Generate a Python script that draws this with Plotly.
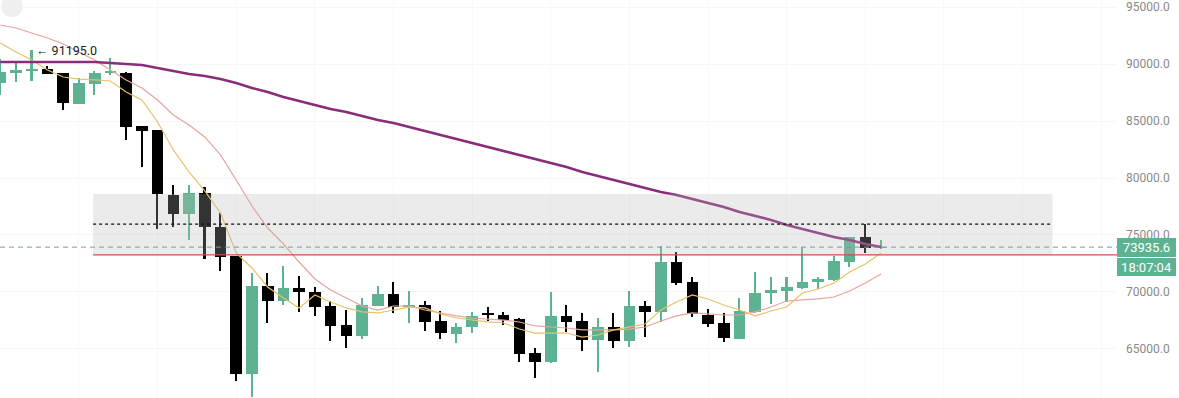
import plotly.graph_objects as go

# ---- data ----
opens = [88330, 89250, 89430, 89560, 89210, 86490, 88250, 89210, 89210, 84560,
         84210, 78510, 76840, 78680, 75700, 73160, 62810, 70530, 69210, 70350,
         70000, 68770, 67110, 66140, 68770, 69830, 68680, 68860, 67460, 66320,
         66930, 68160, 67980, 67630, 64650, 63860, 67890, 67460, 65790, 66930,
         65700, 68770, 68250, 72630, 70880, 67980, 67280, 65880, 68250, 69910,
         70090, 70350, 70880, 71050, 72630, 74820, 73860]
highs = [90450, 90180, 91195, 89830, 89250, 88770, 89390, 90530, 89300, 84600,
         84250, 79390, 79390, 79210, 76930, 73200, 71670, 71670, 72280, 71400,
         70440, 69210, 68420, 69470, 70530, 70880, 70090, 69210, 68330, 67280,
         68250, 68680, 68250, 67720, 65090, 70000, 68860, 68160, 67720, 68160,
         70090, 69210, 74040, 73510, 71320, 68510, 68160, 69470, 71750, 71320,
         71320, 73950, 71320, 73160, 74850, 75960, 74560]
lows = [87280, 88420, 88510, 89100, 85970, 86450, 87280, 89040, 83330, 80970,
        75530, 75700, 74560, 72900, 71840, 62190, 60790, 67280, 68860, 68250,
        67900, 65700, 65090, 65880, 68750, 68160, 67280, 66580, 65880, 65530,
        66400, 67460, 67110, 63860, 62460, 63800, 66490, 64820, 62980, 65090,
        65180, 66050, 67370, 70610, 67810, 66930, 65610, 65850, 68200, 68950,
        69120, 70300, 70260, 71000, 72190, 73420, 73770]
closes = [89300, 89450, 89560, 89120, 86580, 88330, 89210, 89340, 84470, 84120,
          78600, 76840, 78680, 75700, 73070, 62810, 70530, 69210, 70350, 70000,
          68680, 67020, 66140, 68860, 69830, 68680, 68860, 67370, 66400, 66930,
          67890, 67980, 67540, 64560, 63860, 67890, 67370, 65790, 66930, 65700,
          68770, 68250, 72630, 70790, 68070, 67190, 65970, 68330, 69910, 70180,
          70440, 70880, 71140, 72720, 74820, 73860, 73935.6]

ma_long = [90180, 90180, 90180, 90180, 90180, 90180, 90180, 90090, 90000, 89910,
           89650, 89390, 89120, 88950, 88680, 88330, 87900, 87540, 87110, 86750,
           86400, 86050, 85790, 85440, 85090, 84820, 84470, 84120, 83770, 83420,
           83070, 82720, 82370, 82020, 81670, 81320, 80970, 80530, 80180, 79820,
           79470, 79120, 78770, 78510, 78160, 77810, 77460, 77020, 76670, 76320,
           75880, 75530, 75180, 74820, 74560, 74210, 73950]
ma_mid = [93420, 93160, 92720, 92280, 91750, 91050, 90350, 89470, 88600, 87900,
          86840, 85530, 84650, 83600, 82020, 79820, 77540, 75610, 74210, 72630,
          71140, 70180, 69470, 68770, 68420, 68770, 68770, 68420, 68160, 67900,
          67720, 67630, 67540, 67370, 67020, 66930, 66840, 66670, 66670, 66670,
          66750, 66930, 67460, 67900, 68160, 68070, 67980, 67980, 68250, 68680,
          69210, 69300, 69390, 69560, 70090, 70790, 71580]
ma_short = [91840, 91050, 90350, 89470, 88860, 88680, 88600, 88510, 87540, 86840,
            84910, 82460, 80530, 78860, 76930, 73420, 72110, 70440, 69470, 68600,
            69740, 69120, 68600, 68250, 68160, 68420, 68680, 68600, 68070, 67720,
            67540, 67370, 67280, 66750, 66400, 66400, 66400, 66050, 66230, 66670,
            66930, 67190, 68420, 69120, 69740, 69390, 68860, 68420, 67900, 68330,
            68680, 69910, 70260, 70790, 71750, 72460, 73420]

last_price = 73935.6
timer_text = "18:07:04"
high_mark = 91195.0
red_level = 73250
dotted_level = 75950
zone_low, zone_high = 73250, 78600
yticks = [65000, 70000, 75000, 80000, 85000, 90000, 95000]

# ---- derived ----
idx = list(range(len(opens)))
GREEN = "#5db391"
BLACK = "#000000"
colors = [GREEN if c >= o else BLACK for o, c in zip(opens, closes)]
body_base = [min(o, c) for o, c in zip(opens, closes)]
body_h = [max(abs(c - o), 40) for o, c in zip(opens, closes)]
wick_h = [h - l for h, l in zip(highs, lows)]

fig = go.Figure()
fig.add_trace(go.Bar(x=idx, y=wick_h, base=lows, width=0.1,
                     marker=dict(color=colors, line=dict(width=0)), hoverinfo="skip"))
fig.add_trace(go.Bar(x=idx, y=body_h, base=body_base, width=0.74,
                     marker=dict(color=colors, line=dict(width=0)), hoverinfo="skip"))
fig.add_trace(go.Scatter(x=idx, y=ma_mid, mode="lines",
                         line=dict(color="#e9a39c", width=1.2), hoverinfo="skip"))
fig.add_trace(go.Scatter(x=idx, y=ma_short, mode="lines",
                         line=dict(color="#e6c26a", width=1.2), hoverinfo="skip"))
fig.add_trace(go.Scatter(x=idx, y=ma_long, mode="lines",
                         line=dict(color="#8a2c7a", width=2.6), hoverinfo="skip"))

x_lo, x_hi = -0.02, 71.0
zone_x0, zone_x1 = 5.9, 66.9

shapes = [
    dict(type="rect", xref="x", yref="y", x0=zone_x0, x1=zone_x1, y0=zone_low, y1=zone_high,
         fillcolor="rgba(183,183,187,0.28)", line=dict(width=0), layer="above"),
    dict(type="line", xref="x", yref="y", x0=zone_x0, x1=zone_x1, y0=dotted_level, y1=dotted_level,
         line=dict(color="#111111", width=1.2, dash="dot"), layer="above"),
    dict(type="line", xref="paper", yref="y", x0=0, x1=1, y0=last_price, y1=last_price,
         line=dict(color="#7b9c9a", width=1, dash="5px,4px"), layer="above"),
    dict(type="line", xref="x", yref="y", x0=zone_x0, x1=x_hi, y0=red_level, y1=red_level,
         line=dict(color="#cf4e4e", width=1.3), layer="above"),
    dict(type="circle", xref="paper", yref="paper", x0=1/1117, x1=23/1117,
         y0=1 - 17/398, y1=1 + 5/398, fillcolor="#efefef", line=dict(width=0), layer="above"),
]

annotations = [
    dict(x=2, y=high_mark, xref="x", yref="y", text="← " + f"{high_mark:.1f}",
         showarrow=False, xanchor="left", yanchor="middle", xshift=2,
         font=dict(family="Roboto", size=12.5, color="#222222")),
    dict(x=1, y=last_price, xref="paper", yref="y", text=f"{last_price:.1f}",
         showarrow=False, xanchor="left", yanchor="middle", bgcolor=GREEN,
         width=59, height=19, borderpad=0, borderwidth=0, align="center",
         font=dict(family="Roboto", size=13, color="#ffffff")),
    dict(x=1, y=last_price, xref="paper", yref="y", text=timer_text,
         showarrow=False, xanchor="left", yanchor="middle", bgcolor=GREEN,
         width=59, height=18, borderpad=0, borderwidth=0, align="center", yshift=-20,
         font=dict(family="Roboto", size=13, color="#ffffff")),
]

fig.update_layout(
    width=1179, height=398,
    margin=dict(l=0, r=62, t=0, b=0),
    paper_bgcolor="white", plot_bgcolor="white",
    showlegend=False, barmode="overlay", bargap=0,
    shapes=shapes, annotations=annotations,
    xaxis=dict(range=[x_lo, x_hi], tickvals=list(range(0, 75, 5)), showticklabels=False,
               showgrid=True, gridcolor="#f8f8f8", zeroline=False, showline=False, fixedrange=True),
    yaxis=dict(range=[60701, 95614], side="right", tickvals=yticks,
               ticktext=[f"{v:.1f}" for v in yticks], showgrid=True, gridcolor="#f6f6f6",
               zeroline=False, showline=False, ticks="", ticklabelstandoff=8,
               tickfont=dict(family="Roboto", size=12, color="#8a8a8a")),
)

fig.write_html("out.html", config={"displayModeBar": False})
